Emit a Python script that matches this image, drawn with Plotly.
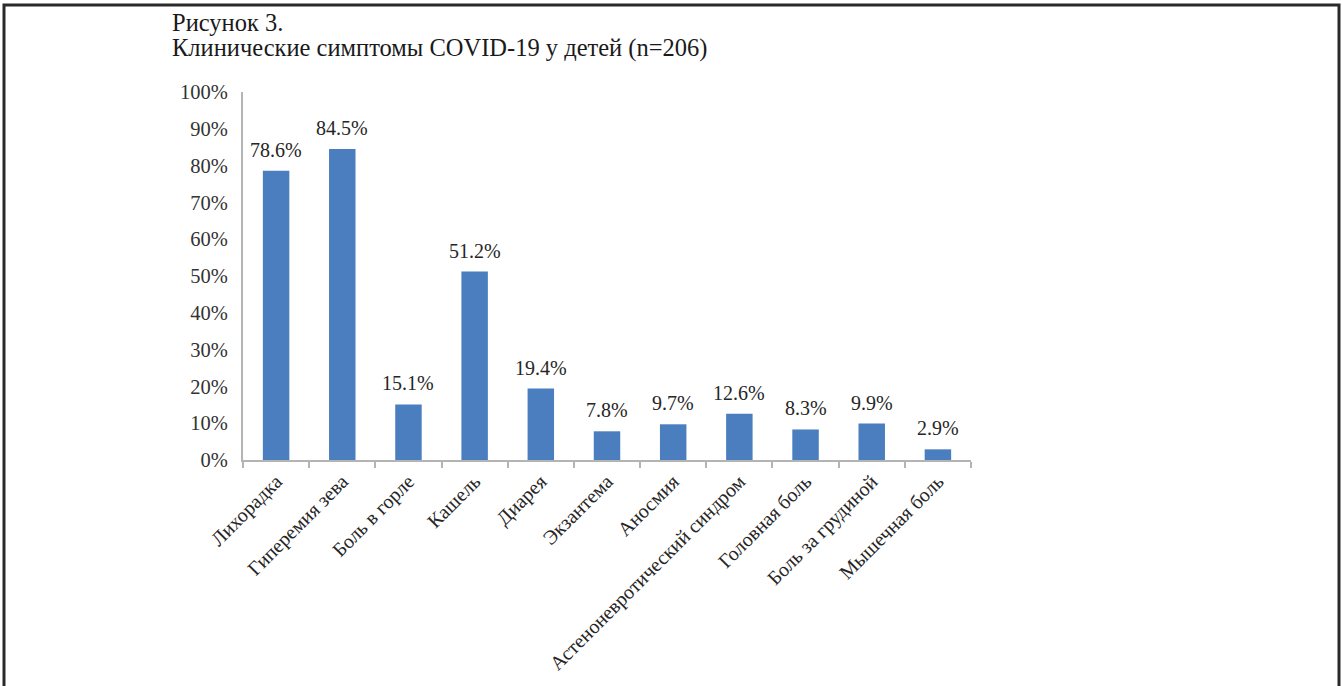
import plotly.graph_objects as go

categories = [
    "Лихорадка", "Гиперемия зева", "Боль в горле", "Кашель", "Диарея",
    "Экзантема", "Аносмия", "Астеноневротический синдром", "Головная боль",
    "Боль за грудиной", "Мышечная боль",
]
shares = [78.6, 84.5, 15.1, 51.2, 19.4, 7.8, 9.7, 12.6, 8.3, 9.9, 2.9]
y_ticks = list(range(0, 101, 10))

FONT = "Liberation Serif, Times New Roman, serif"

W, H = 1342, 686
# plot area in page pixels
L, R, T, B = 243, 971, 92, 460


def px_x(x):
    return (x - L) / (R - L)


def px_y(y):
    return (B - y) / (B - T)


fig = go.Figure(go.Bar(
    x=categories,
    y=shares,
    marker=dict(color="#4a7ebf", line=dict(width=0)),
    width=0.4,
    hoverinfo="x+y",
))

# value labels sit a little higher above the bars than plotly's "outside" text
for cat, v in zip(categories, shares):
    fig.add_annotation(
        x=cat, y=v, text=f"{v:.1f}%", showarrow=False,
        yanchor="bottom", yshift=8,
        font=dict(family=FONT, size=20, color="#262626"),
    )

fig.update_layout(
    width=W, height=H,
    margin=dict(l=L, r=W - R, t=T, b=H - B),
    plot_bgcolor="white", paper_bgcolor="white",
    font=dict(family=FONT, size=20, color="#333333"),
    showlegend=False,
    bargap=0.6,
)
fig.update_yaxes(
    range=[0, 100],
    tickvals=y_ticks,
    ticktext=[f"{v}%" for v in y_ticks],
    showgrid=False, zeroline=False,
    showline=True, linecolor="#b4b4b4", linewidth=2,
    ticks="", ticklabelstandoff=9,
    tickfont=dict(family=FONT, size=20.5, color="#333333"),
)
fig.update_xaxes(
    showgrid=False,
    showline=True, linecolor="#b4b4b4", linewidth=2,
    ticks="outside", tickson="boundaries", ticklen=6, tickcolor="#b4b4b4", tickwidth=2,
    tickangle=-45,
    tickfont=dict(family=FONT, size=20, color="#262626"),
)

fig.add_annotation(
    text="Рисунок 3.", xref="paper", yref="paper",
    x=px_x(170), y=px_y(38), xanchor="left", yanchor="bottom",
    showarrow=False, font=dict(family=FONT, size=24.5, color="#1a1a1a"),
)
fig.add_annotation(
    text="Клинические симптомы COVID-19 у детей (n=206)", xref="paper", yref="paper",
    x=px_x(170), y=px_y(64), xanchor="left", yanchor="bottom",
    showarrow=False, font=dict(family=FONT, size=24.5, color="#1a1a1a"),
)

# page frame
fig.add_shape(
    type="rect", xref="paper", yref="paper",
    x0=px_x(4), x1=px_x(1339), y0=px_y(720), y1=px_y(5),
    line=dict(color="#2a2a2a", width=3), layer="above",
)

# drop the default body margin so the figure sits at the page corner
fig.write_html("out.html", config={"displayModeBar": False},
               post_script="document.body.style.margin='0';")
